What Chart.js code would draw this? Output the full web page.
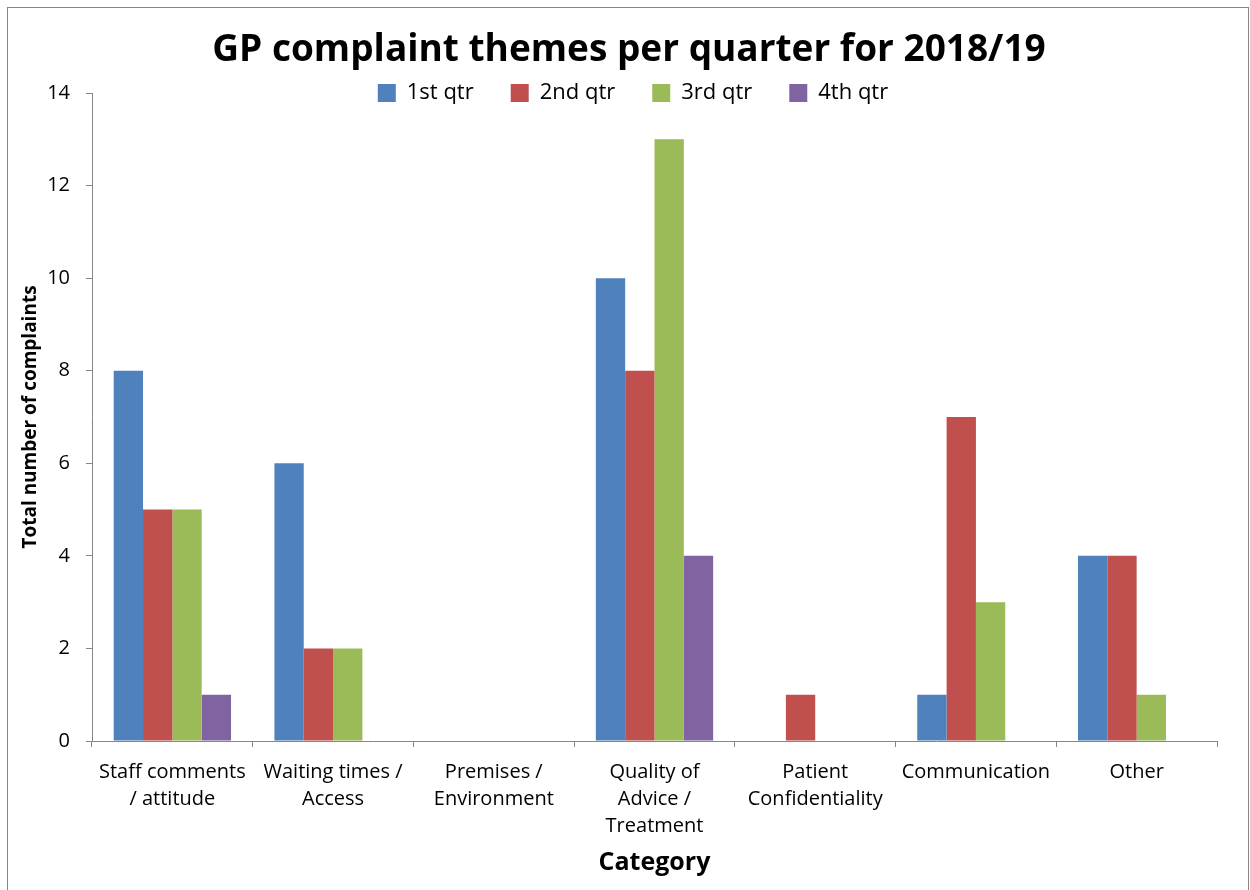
<!DOCTYPE html>
<html>
<head>
<meta charset="utf-8">
<title>GP complaint themes per quarter for 2018/19</title>
<script src="https://cdn.jsdelivr.net/npm/chart.js@4/dist/chart.umd.min.js"></script>
<style>
  html, body { margin: 0; padding: 0; background: #ffffff; }
  #wrap { width: 1250px; height: 890px; position: relative; }
</style>
</head>
<body>
<div id="wrap"><canvas id="complaintChart"></canvas></div>
<script>
// complaint categories (multi-line labels as shown under the axis)
const categories = [
  ["Staff comments", "/ attitude"],
  ["Waiting times /", "Access"],
  ["Premises /", "Environment"],
  ["Quality of", "Advice /", "Treatment"],
  ["Patient", "Confidentiality"],
  ["Communication"],
  ["Other"]
];

// number of complaints per quarter
const qtr1 = [8, 6, 0, 10, 0, 1, 4];
const qtr2 = [5, 2, 0, 8, 1, 7, 4];
const qtr3 = [5, 2, 0, 13, 0, 3, 1];
const qtr4 = [1, 0, 0, 4, 0, 0, 0];

const seriesNames = ["1st qtr", "2nd qtr", "3rd qtr", "4th qtr"];
const seriesColors = ["#4F81BD", "#C0504D", "#9BBB59", "#8064A2"];
const yTicks = [0, 2, 4, 6, 8, 10, 12, 14];

const fontFamily = "'Open Sans', sans-serif";
const axisGrey = "#868686";

// white background + thin frame round the whole chart
const framePlugin = {
  id: 'frame',
  beforeDraw(chart) {
    const ctx = chart.ctx;
    ctx.save();
    ctx.fillStyle = "#ffffff";
    ctx.fillRect(0, 0, chart.width, chart.height);
    ctx.strokeStyle = axisGrey;
    ctx.lineWidth = 1;
    ctx.strokeRect(7.5, 7.5, chart.width - 9, chart.height + 20);
    ctx.restore();
  }
};

// title and legend are centred on the frame; legend straddles the top of the plot
const legendInsidePlugin = {
  id: 'legendInside',
  afterLayout(chart) {
    const tb = chart.titleBlock;
    if (tb) {
      tb.left = 8;
      tb.right = chart.width;
      tb.width = tb.right - tb.left;
    }
    const lg = chart.legend;
    if (!lg) return;
    lg.left = 16;
    lg.right = chart.width;
    lg.width = lg.right - lg.left;
    const lab = lg.options.labels;
    lg.top = chart.chartArea.top - lab.padding - lab.font.size / 2;
    lg.bottom = lg.top + lg.height;
  }
};

const datasets = [qtr1, qtr2, qtr3, qtr4].map((vals, i) => ({
  label: seriesNames[i],
  data: vals,
  backgroundColor: seriesColors[i],
  borderWidth: 0,
  categoryPercentage: 0.73,
  barPercentage: 1.0
}));

new Chart(document.getElementById("complaintChart"), {
  type: 'bar',
  data: { labels: categories, datasets: datasets },
  plugins: [framePlugin, legendInsidePlugin],
  options: {
    responsive: true,
    maintainAspectRatio: false,
    animation: false,
    layout: { padding: { left: 7, right: 33, top: 0, bottom: 8 } },
    plugins: {
      title: {
        display: true,
        text: "GP complaint themes per quarter for 2018/19",
        color: "#000000",
        font: { family: fontFamily, size: 37, weight: 'bold', lineHeight: 1.2 },
        padding: { top: 28, bottom: -48.4 }
      },
      legend: {
        display: true,
        position: 'top',
        labels: {
          boxWidth: 18,
          boxHeight: 18,
          padding: 37,
          color: "#000000",
          font: { family: fontFamily, size: 22 }
        }
      },
      tooltip: { enabled: false }
    },
    scales: {
      x: {
        offset: true,
        afterFit(scale) { scale.height = 141; },
        grid: {
          offset: true,
          drawOnChartArea: false,
          drawTicks: true,
          tickLength: 6,
          color: axisGrey
        },
        border: { display: true, color: axisGrey, width: 1 },
        ticks: {
          maxRotation: 0,
          autoSkip: false,
          padding: 12,
          color: "#000000",
          font: { family: fontFamily, size: 20, lineHeight: 1.35 }
        },
        title: {
          display: true,
          text: "Category",
          color: "#000000",
          font: { family: fontFamily, size: 25, weight: 'bold', lineHeight: 1.2 },
          padding: { top: 0, bottom: 4 }
        }
      },
      y: {
        min: 0,
        max: 14,
        afterFit(scale) { scale.width = 85; },
        afterBuildTicks(scale) { scale.ticks = yTicks.map(v => ({ value: v })); },
        grid: {
          drawOnChartArea: false,
          drawTicks: true,
          tickLength: 6,
          color: axisGrey
        },
        border: { display: true, color: axisGrey, width: 1 },
        ticks: {
          padding: 16,
          color: "#000000",
          font: { family: fontFamily, size: 20 }
        },
        title: {
          display: true,
          text: "Total number of complaints",
          color: "#000000",
          font: { family: fontFamily, size: 19, weight: 'bold', lineHeight: 1.2 },
          padding: { top: 12, bottom: 0 }
        }
      }
    }
  }
});
</script>
</body>
</html>
